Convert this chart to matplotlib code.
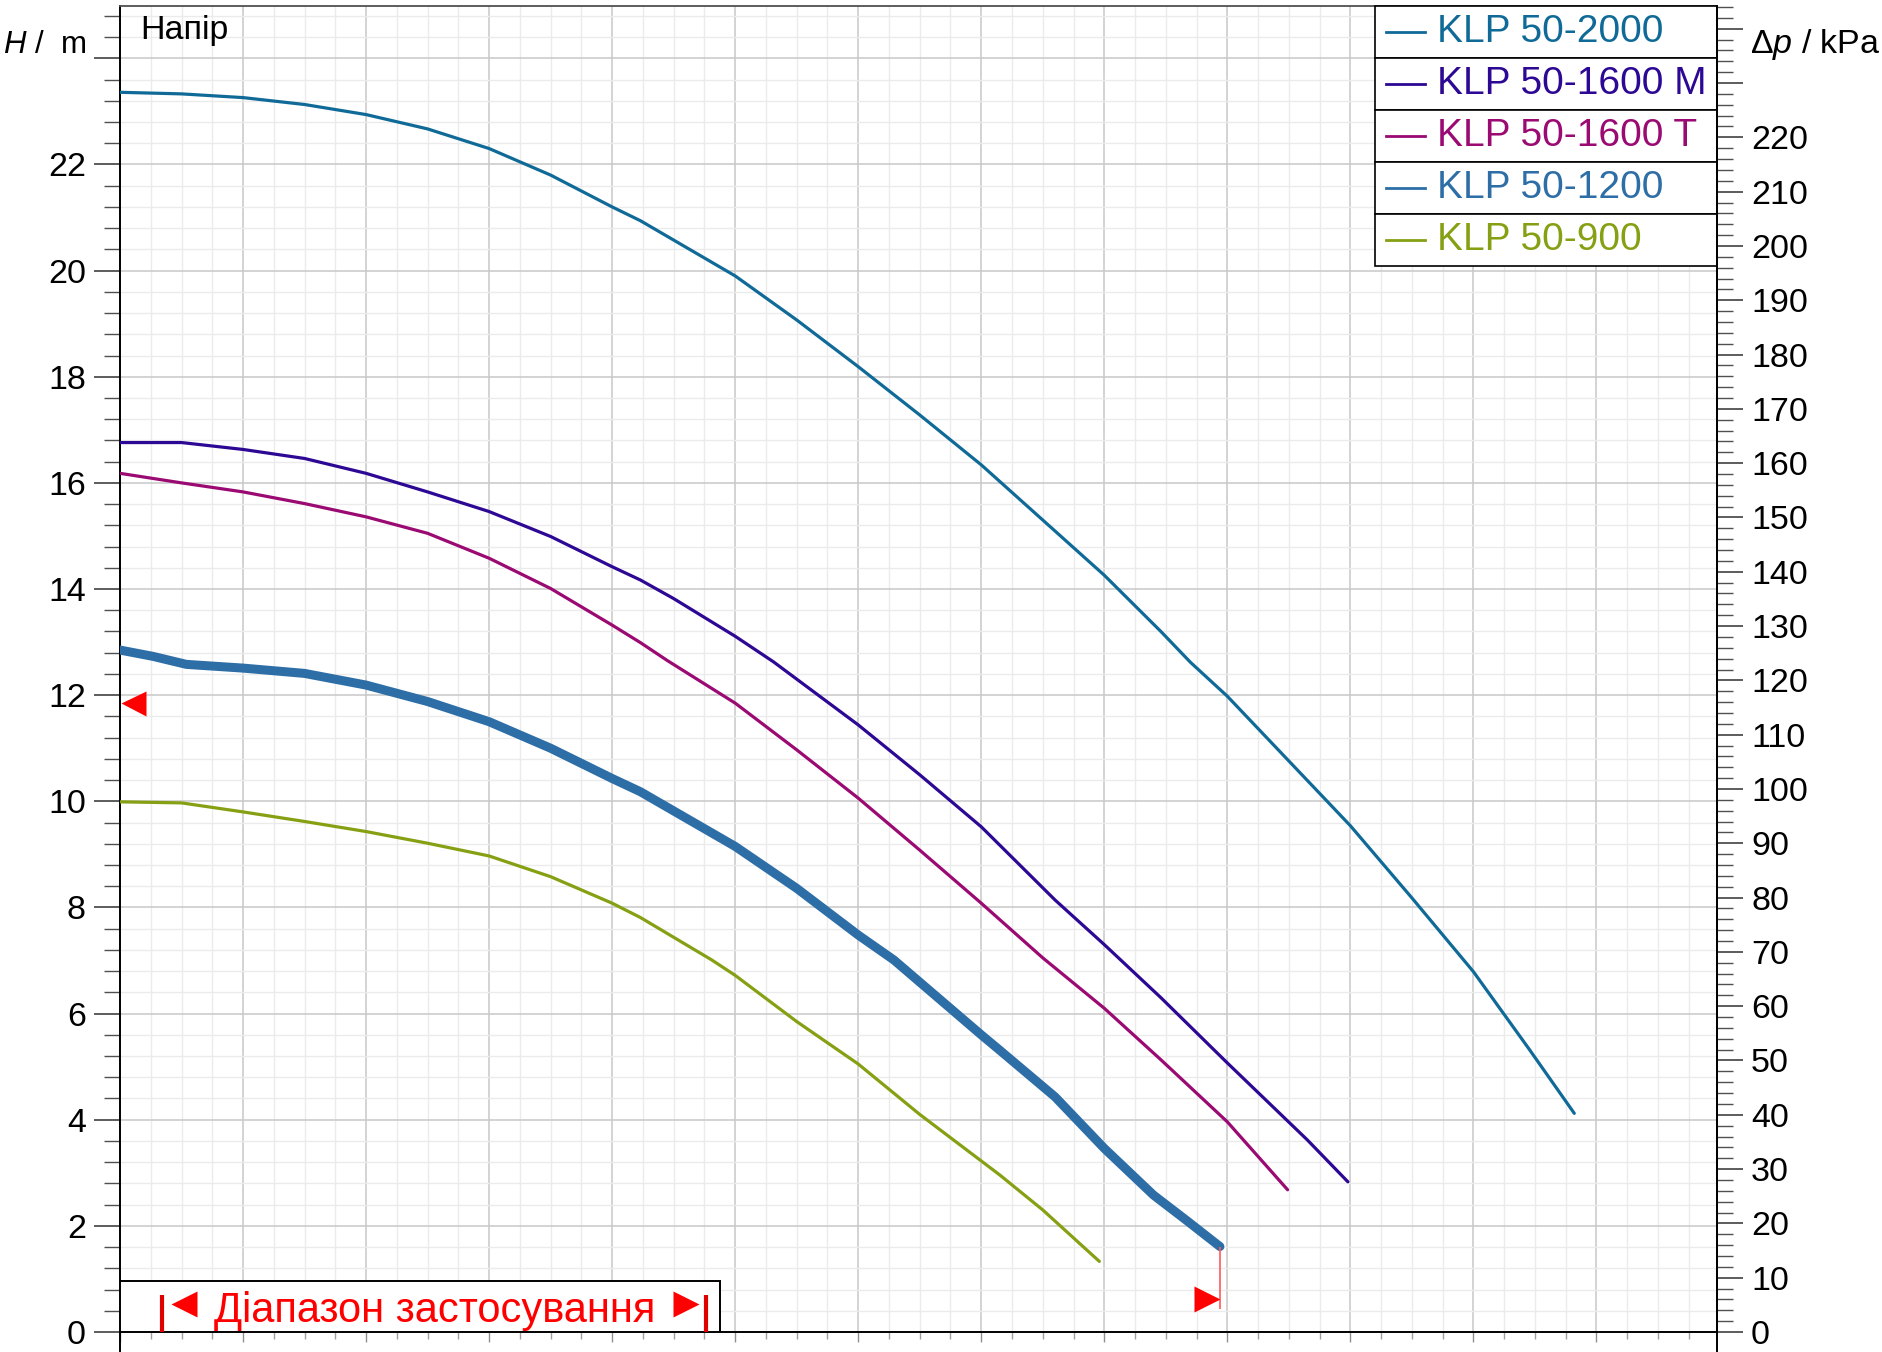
import numpy as np
import matplotlib
matplotlib.use('Agg')
import matplotlib.pyplot as plt
from matplotlib.patches import Rectangle
from matplotlib.lines import Line2D
from matplotlib.ticker import MultipleLocator, FuncFormatter
from matplotlib.transforms import offset_copy

plt.rcParams['font.family'] = 'Liberation Sans'
plt.rcParams['mathtext.fontset'] = 'custom'
plt.rcParams['mathtext.rm'] = 'Liberation Sans'
plt.rcParams['mathtext.it'] = 'Liberation Sans:italic'

# pump curves (x = flow in grid units, H in m)
q2000 = [0, 0.5, 1.0, 1.5, 2.0, 2.5, 3.0, 3.5, 4.0, 4.23, 5.0, 5.5, 6.0, 6.5, 7.0,
         7.5, 8.0, 8.46, 8.7, 9.0, 9.5, 10.0, 10.5, 11.0, 11.45, 11.82]
h2000 = [23.36, 23.33, 23.26, 23.13, 22.94, 22.67, 22.30, 21.80, 21.20, 20.94, 19.90,
         19.07, 18.19, 17.28, 16.34, 15.30, 14.26, 13.20, 12.62, 11.98, 10.76, 9.54,
         8.18, 6.79, 5.34, 4.12]

q1600m = [0, 0.5, 1.0, 1.5, 2.0, 2.5, 3.0, 3.5, 4.0, 4.23, 4.5, 5.0, 5.31, 6.0, 6.5,
          7.0, 7.6, 8.0, 8.46, 9.0, 9.65, 9.98]
h1600m = [16.76, 16.76, 16.63, 16.46, 16.18, 15.83, 15.46, 14.99, 14.42, 14.17, 13.82,
          13.11, 12.63, 11.44, 10.50, 9.52, 8.14, 7.30, 6.30, 5.07, 3.62, 2.83]

q1600t = [0, 0.5, 1.0, 1.5, 2.0, 2.5, 3.0, 3.5, 4.0, 4.23, 4.45, 5.0, 5.5, 6.0, 6.5,
          7.0, 7.5, 8.0, 8.46, 9.0, 9.49]
h1600t = [16.18, 16.00, 15.83, 15.61, 15.36, 15.05, 14.58, 14.01, 13.32, 12.99, 12.65,
          11.85, 10.97, 10.06, 9.08, 8.08, 7.05, 6.10, 5.13, 3.96, 2.68]

q1200 = [0, 0.27, 0.54, 1.0, 1.5, 2.0, 2.5, 3.0, 3.5, 4.0, 4.23, 5.0, 5.5, 6.0, 6.29,
         7.0, 7.15, 7.6, 8.0, 8.4, 8.67, 8.94]
h1200 = [12.85, 12.73, 12.58, 12.51, 12.41, 12.19, 11.88, 11.50, 11.00, 10.43, 10.18,
         9.15, 8.36, 7.48, 7.01, 5.60, 5.31, 4.43, 3.46, 2.58, 2.10, 1.61]

q900 = [0, 0.5, 1.0, 1.5, 2.0, 2.5, 3.0, 3.5, 4.0, 4.23, 4.81, 5.0, 5.5, 6.0, 6.5,
        7.15, 7.5, 7.96]
h900 = [9.99, 9.97, 9.80, 9.62, 9.43, 9.21, 8.97, 8.58, 8.08, 7.81, 7.01, 6.72, 5.85,
        5.05, 4.10, 2.96, 2.30, 1.33]

names = ['KLP 50-2000', 'KLP 50-1600 M', 'KLP 50-1600 T', 'KLP 50-1200', 'KLP 50-900']
colors = ['#106a98', '#2c0894', '#9a0a72', '#2e6ea6', '#85a013']

# working range markers
range_left_h = 11.86
range_right_h = 0.63
range_right_low = 0.43
range_box_q = 4.88
range_box_h = 0.96

KPA_PER_M = 9.773
Q_MAX = 12.98
H_MAX = 24.986

W, HP = 1883, 1352
fig = plt.figure(figsize=(W / 100, HP / 100), dpi=100)
ax = fig.add_axes([120 / W, 20 / HP, 1597 / W, 1326 / HP])
ax.set_xlim(0, Q_MAX)
ax.set_ylim(0, H_MAX)

ax.xaxis.set_major_locator(MultipleLocator(1))
ax.xaxis.set_minor_locator(MultipleLocator(0.25))
ax.yaxis.set_major_locator(MultipleLocator(2))
ax.yaxis.set_minor_locator(MultipleLocator(0.4))
ax.yaxis.set_major_formatter(FuncFormatter(lambda v, p: '' if v > 23 else f'{v:.0f}'))
ax.set_axisbelow(True)
ax.grid(which='major', color='#c8c8c8', lw=1.1)
ax.grid(which='minor', color='#ebebeb', lw=1.0)

ax.tick_params(axis='y', which='major', length=18.7, width=1.1, color='#303030',
               pad=5.8, labelsize=24.5)
ax.tick_params(axis='y', which='minor', length=11.5, width=1.0, color='#505050')
ax.tick_params(axis='x', which='major', length=7, width=1.0, color='#909090',
               labelbottom=False)
ax.tick_params(axis='x', which='minor', length=5, width=1.0, color='#a0a0a0')
for s in ['left', 'right', 'bottom']:
    ax.spines[s].set_color('black')
    ax.spines[s].set_linewidth(1.4)
ax.spines['top'].set_color('#505050')
ax.spines['top'].set_linewidth(1.3)

ax2 = ax.twinx()
ax2.set_ylim(0, H_MAX * KPA_PER_M)
ax2.yaxis.set_major_locator(MultipleLocator(10))
ax2.yaxis.set_minor_locator(MultipleLocator(2))
ax2.yaxis.set_major_formatter(FuncFormatter(lambda v, p: '' if v > 225 else f'{v:.0f}'))
ax2.tick_params(axis='y', which='major', length=18.7, width=1.1, color='#303030',
                pad=5.8, labelsize=24.5)
ax2.tick_params(axis='y', which='minor', length=11.5, width=1.0, color='#505050')
for s in ['left', 'top', 'bottom']:
    ax2.spines[s].set_visible(False)
ax2.spines['right'].set_color('black')
ax2.spines['right'].set_linewidth(1.4)

# spine stubs below the zero line
for xp in (120 / W, 1717 / W):
    fig.add_artist(Line2D([xp, xp], [0, 20 / HP], color='black', lw=1.4))

series = [(q2000, h2000), (q1600m, h1600m), (q1600t, h1600t), (q1200, h1200), (q900, h900)]
for (q, h), c, name in zip(series, colors, names):
    lw = 6.5 if name == 'KLP 50-1200' else 2.3
    ax.plot(q, h, color=c, lw=lw, solid_capstyle='round', solid_joinstyle='round',
            zorder=3)

# working range
tr_l = offset_copy(ax.transData, fig=fig, x=12.5, y=0, units='dots')
ax.plot([0], [range_left_h], marker='<', ms=18, color='red', mec='none',
        transform=tr_l, clip_on=False, zorder=6)
ax.vlines(q1200[-1], range_right_low, h1200[-1], color='#ff5a5a', lw=1.2, zorder=4)
tr_r = offset_copy(ax.transData, fig=fig, x=-13, y=0, units='dots')
ax.plot([q1200[-1]], [range_right_h], marker='>', ms=18.5, color='red', mec='none',
        transform=tr_r, zorder=6)

ax.add_patch(Rectangle((0, 0), range_box_q, range_box_h, fc='white', ec='black',
                       lw=1.4, zorder=4))
ax.vlines([0.34, 4.76], 0, 0.70, color='#e00000', lw=3, zorder=5)
ax.plot([0.524], [0.53], marker='<', ms=19, color='red', mec='none', zorder=5)
ax.plot([4.60], [0.53], marker='>', ms=19, color='red', mec='none', zorder=5)
ax.text(2.56, 0.19, 'Діапазон застосування', color='red', fontsize=30,
        ha='center', va='baseline', zorder=5)

# legend table
row_h = 52 / 1326
x0 = (1375 - 120) / 1597
for i, (name, c) in enumerate(zip(names, colors)):
    top = 1 - i * row_h
    ax.add_patch(Rectangle((x0, top - row_h), 1 - x0, row_h, transform=ax.transAxes,
                           fc='white', ec='black', lw=1.2, zorder=7, clip_on=False))
    ax.plot([(1386 - 120) / 1597, (1425 - 120) / 1597], [top - row_h / 2] * 2,
            transform=ax.transAxes, color=c, lw=2, zorder=8, clip_on=False)
    ax.text((1437 - 120) / 1597, top - row_h / 2, name, transform=ax.transAxes,
            color=c, fontsize=28, va='center', ha='left', zorder=8)

ax.text((140 - 120) / 1597, 1 - 33 / 1326, 'Напір', transform=ax.transAxes,
        fontsize=24.5, va='baseline', ha='left')
fig.text(3 / W, 1 - 53 / HP, r'$\it{H}$ /  m', fontsize=22.5, va='baseline', ha='left')
fig.text(1750 / W, 1 - 53 / HP, r'$\Delta\it{p}$ / kPa', fontsize=24.5, va='baseline',
         ha='left')

fig.savefig('out.png', dpi=100)
